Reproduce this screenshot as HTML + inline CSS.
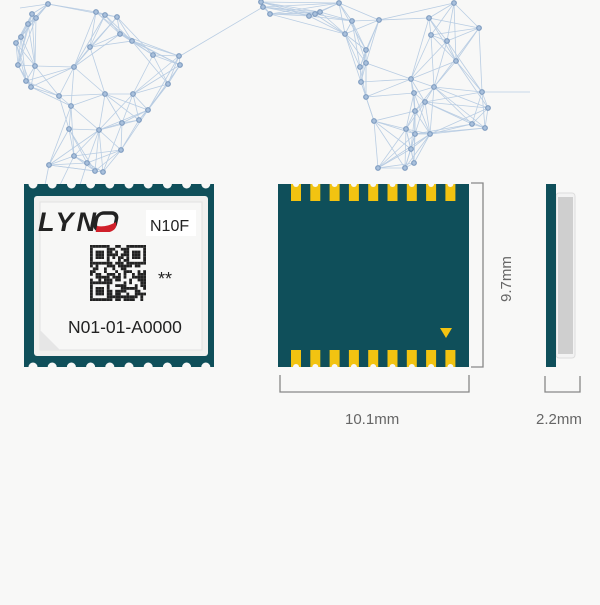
<!DOCTYPE html>
<html><head><meta charset="utf-8"><style>
body{margin:0;background:#f8f8f7;width:600px;height:600px;overflow:hidden;font-family:"Liberation Sans",sans-serif}
</style></head><body>
<svg id="s" width="600" height="600" viewBox="0 0 600 600" xmlns="http://www.w3.org/2000/svg">
<g id="net" stroke="#b9cde3" stroke-width="0.8" fill="none"></g>
<g id="nodes" fill="#a9c0dc" stroke="#7f9cc0" stroke-width="1.2"></g>

<!-- left chip -->
<rect x="24" y="184" width="190" height="183" fill="#0f4f5a"/>
<g fill="#f8f8f7" id="notch"></g>
<rect x="34" y="196" width="174" height="160" rx="3" fill="#f0f0ef"/>
<rect x="40" y="202" width="162" height="148" fill="#f7f7f6" stroke="#e2e2e2"/>
<path d="M40 330 L60 350 L40 350Z" fill="#e6e6e6"/>
<text x="38" y="231" font-size="27" font-style="italic" font-weight="bold" fill="#222" letter-spacing="3">LYN</text>
<g transform="skewX(-12) translate(45,0)">
<rect x="98" y="213" width="20" height="17" rx="6" fill="none" stroke="#222" stroke-width="3.5"/>
<path d="M100 226 c6 1 12 0 18 -4 c2 4 2 8 -4 10 h-14z" fill="#d0202a"/>
</g>
<rect x="146" y="210" width="50" height="26" fill="#fff"/>
<text x="150" y="231" font-size="16" fill="#222">N10F</text>
<g id="qr"></g>
<text x="158" y="285" font-size="18" fill="#222">**</text>
<text x="68" y="333" font-size="17.5" fill="#222">N01-01-A0000</text>

<!-- middle chip -->
<rect x="278" y="184" width="191" height="183" fill="#0f4f5a"/>
<g id="pads" fill="#f2c311"></g>
<path d="M440 328 h12 l-6 10z" fill="#f2c311"/>
<g stroke="#888" stroke-width="1.3" fill="none">
<path d="M471 183 H483 V367 H471"/>
<path d="M280 375 V392 H469 V375"/>
<path d="M545 376 V392 H580 V376"/>
</g>
<text x="0" y="0" font-size="15" fill="#666" transform="translate(511,302) rotate(-90)">9.7mm</text>
<text x="345" y="424" font-size="15" fill="#666">10.1mm</text>
<text x="536" y="424" font-size="15" fill="#666">2.2mm</text>

<!-- side -->
<rect x="556" y="193" width="19" height="165" rx="3" fill="#f3f3f3" stroke="#ddd"/>
<rect x="558" y="197" width="15" height="157" fill="#cfcfcf"/>
<rect x="546" y="184" width="10" height="183" fill="#0f4f5a"/>
</svg>
<script>
const N=[[48,4],[32,14],[36,18],[28,24],[96,12],[105,15],[117,17],[21,37],[16,43],[120,34],[132,41],[90,47],[153,55],[179,56],[180,65],[18,65],[35,66],[74,67],[26,81],[31,87],[59,96],[105,94],[133,94],[168,84],[71,106],[148,110],[139,120],[69,129],[99,130],[122,123],[121,150],[74,156],[49,165],[87,163],[95,171],[103,172],
[261,2],[263,7],[270,14],[309,16],[315,14],[320,12],[339,3],
[352,21],[379,20],[345,34],[429,18],[454,3],[479,28],[431,35],[447,41],[366,50],[456,61],[366,63],[360,67],[361,82],[411,79],[366,97],[414,93],[434,87],[482,92],[425,102],[415,111],[374,121],[406,129],[415,134],[430,134],[488,108],[472,124],[485,128],[411,149],[414,163],[378,168],[405,168]];
const ns="http://www.w3.org/2000/svg";
const net=document.getElementById('net'),nd=document.getElementById('nodes');
function L(a,b){const l=document.createElementNS(ns,'line');l.setAttribute('x1',a[0]);l.setAttribute('y1',a[1]);l.setAttribute('x2',b[0]);l.setAttribute('y2',b[1]);net.appendChild(l);}
const seen={};
N.forEach((p,i)=>{const d=N.map((q,j)=>[Math.hypot(p[0]-q[0],p[1]-q[1]),j]).filter(x=>x[1]!=i).sort((a,b)=>a[0]-b[0]);
for(let k=0;k<7;k++){const j=d[k][1];if(d[k][0]>80)break;const key=Math.min(i,j)+'-'+Math.max(i,j);if(!seen[key]){seen[key]=1;L(p,N[j]);}}});
L([180,56],[263,7]);L([48,4],[20,8]);L([74,156],[60,185]);L([49,165],[45,185]);L([87,163],[80,185]);L([482,92],[530,92]);
N.forEach(p=>{const c=document.createElementNS(ns,'circle');c.setAttribute('cx',p[0]);c.setAttribute('cy',p[1]);c.setAttribute('r',2.3);nd.appendChild(c);});
const no=document.getElementById('notch');
for(let i=0;i<10;i++){const x=33+i*19.2;[184,367].forEach(y=>{const c=document.createElementNS(ns,'circle');c.setAttribute('cx',x);c.setAttribute('cy',y);c.setAttribute('r',4.5);no.appendChild(c);});}
const pd=document.getElementById('pads');
for(let i=0;i<9;i++){const x=291+i*19.3;[[184,17],[350,17]].forEach(([y,h])=>{const r=document.createElementNS(ns,'rect');r.setAttribute('x',x);r.setAttribute('y',y);r.setAttribute('width',10);r.setAttribute('height',h);pd.appendChild(r);
const c=document.createElementNS(ns,'circle');c.setAttribute('cx',x+5);c.setAttribute('cy',y==184?184:367);c.setAttribute('r',3);c.setAttribute('fill','#f8f8f7');pd.appendChild(c);});}
const qr=document.getElementById('qr');let seed=7;function rnd(){seed=(seed*9301+49297)%233280;return seed/233280;}
const g=20,cs=2.8,ox=90,oy=245;
for(let y=0;y<g;y++)for(let x=0;x<g;x++){let on=rnd()<0.5;
const f=(a,b)=>{const dx=x-a,dy=y-b;if(dx>=0&&dx<7&&dy>=0&&dy<7){return (dx==0||dx==6||dy==0||dy==6)||(dx>=2&&dx<=4&&dy>=2&&dy<=4);}return null;};
for(const [a,b] of [[0,0],[13,0],[0,13]]){const r=f(a,b);if(r!==null)on=r;}
if(on){const r=document.createElementNS(ns,'rect');r.setAttribute('x',ox+x*cs);r.setAttribute('y',oy+y*cs);r.setAttribute('width',cs);r.setAttribute('height',cs);r.setAttribute('fill','#222');qr.appendChild(r);}}
</script>
</body></html>
